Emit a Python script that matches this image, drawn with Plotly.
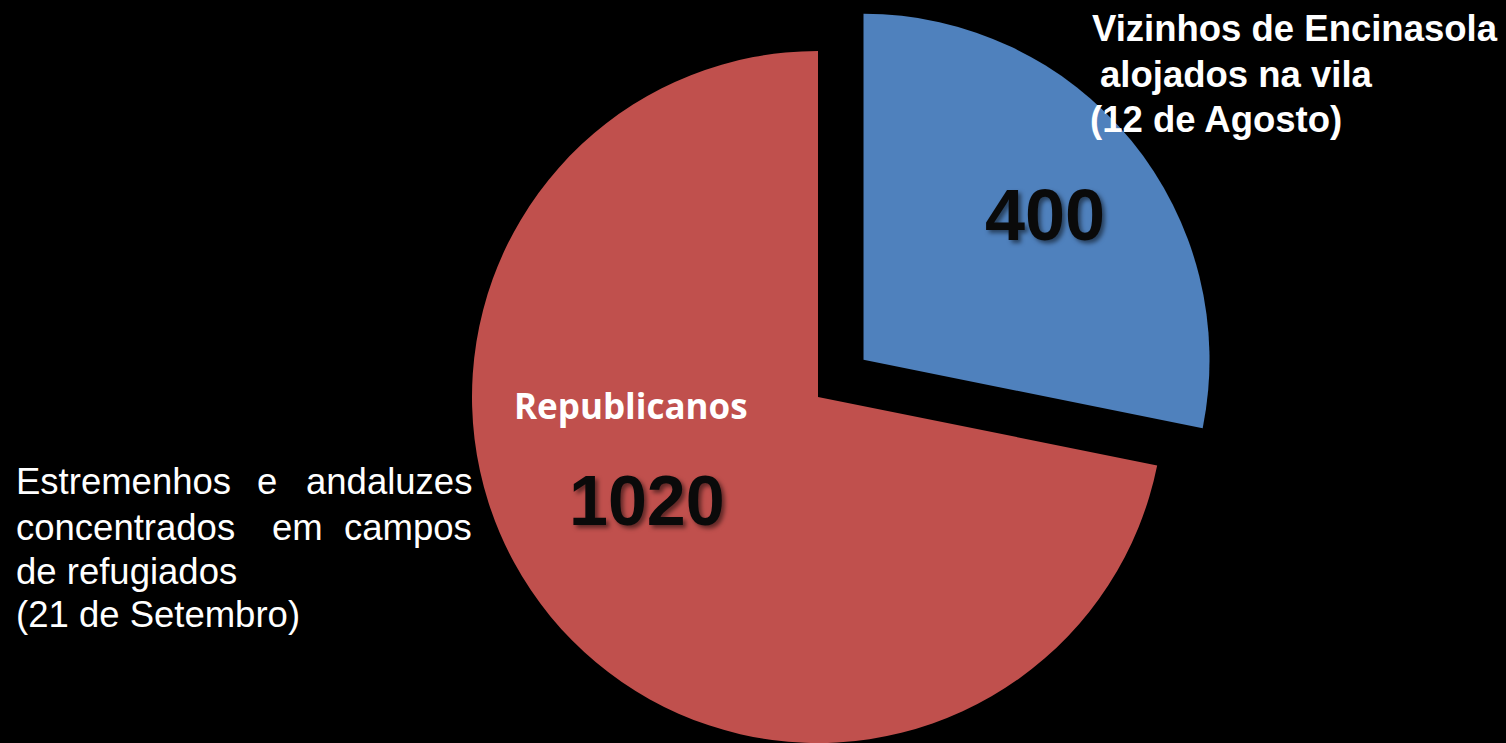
import math
import plotly.graph_objects as go

# ---- data ----
labels = ["Vizinhos de Encinasola alojados na vila (12 de Agosto)",
          "Estremenhos e andaluzes concentrados em campos de refugiados (21 de Setembro)"]
values = [400, 1020]
colors = ["#4F81BD", "#C0504D"]
pulls = [0.17, 0.0]
inner_label = "Republicanos"
right_lines = ["Vizinhos de Encinasola", "alojados na vila", "(12 de Agosto)"]
left_lines = [["Estremenhos", "e", "andaluzes"],
              ["concentrados", "em", "campos"],
              ["de refugiados"],
              ["(21 de Setembro)"]]

W, H = 1506, 743
R = 346.0
CX, CY = 818.0, 397.0

total = sum(values)

def domain_for(cx, cy, r):
    return dict(x=[(cx - r) / W, (cx + r) / W], y=[1 - (cy + r) / H, 1 - (cy - r) / H])

fig = go.Figure()
start = 0.0
for i, v in enumerate(values):
    frac = v / total
    mid = (start + frac / 2) * 2 * math.pi
    off = R * pulls[i]
    cx = CX + off * math.sin(mid)
    cy = CY - off * math.cos(mid)
    cols = ["rgba(0,0,0,0)"] * len(values)
    cols[i] = colors[i]
    fig.add_trace(go.Pie(
        labels=labels, values=values, sort=False, direction="clockwise", rotation=0,
        marker=dict(colors=cols, line=dict(width=0)),
        textinfo="none", hoverinfo="skip", showlegend=False,
        domain=domain_for(cx, cy, R),
    ))
    start += frac

def px(x, y):
    return x / W, 1 - y / H

anns = []
num_font = dict(family="Liberation Sans, Arial", size=72, color="#0a0a0a",
                weight="bold", shadow="3px 3px 4px rgba(0,0,0,0.5)")
x, y = px(1045, 215)
anns.append(dict(x=x, y=y, text=str(values[0]), font=num_font))
x, y = px(647, 501)
anns.append(dict(x=x, y=y, text=str(values[1]), font=dict(num_font, size=70)))
x, y = px(631, 406)
anns.append(dict(x=x, y=y, text="<b>%s</b>" % inner_label,
                 font=dict(family="Open Sans", size=35, color="white")))

# right title lines
rx = [1090, 1098, 1088]
ry = [29, 74, 119]
for t, xx, yy in zip(right_lines, rx, ry):
    x, y = px(xx, yy)
    anns.append(dict(x=x, y=y, text="<b>%s</b>" % t, xanchor="left",
                     font=dict(family="Liberation Sans, Arial", size=36.5, color="white")))

# left justified lines
lf = dict(family="Liberation Sans, Arial", size=36.5, color="white")
ly = [481, 527, 571, 614]
mids = [267, 297]
for li, words in enumerate(left_lines):
    yy = ly[li]
    if len(words) == 3:
        for wi, w in enumerate(words):
            if wi == 0:
                xx, xa = 14, "left"
            elif wi == 1:
                xx, xa = mids[li], "center"
            else:
                xx, xa = 474, "right"
            x, y = px(xx, yy)
            anns.append(dict(x=x, y=y, text=w, xanchor=xa, font=lf))
    else:
        x, y = px(14, yy)
        anns.append(dict(x=x, y=y, text=words[0], xanchor="left", font=lf))

for a in anns:
    a.setdefault("xanchor", "center")
    a["yanchor"] = "middle"
    a["xref"] = "paper"
    a["yref"] = "paper"
    a["showarrow"] = False

fig.update_layout(
    width=W, height=H, margin=dict(l=0, r=0, t=0, b=0),
    paper_bgcolor="black", plot_bgcolor="black",
    annotations=anns,
)
fig.write_html("out.html", config={"displayModeBar": False},
               post_script="document.body.style.margin='0';document.body.style.overflow='hidden';document.body.style.background='black';")
